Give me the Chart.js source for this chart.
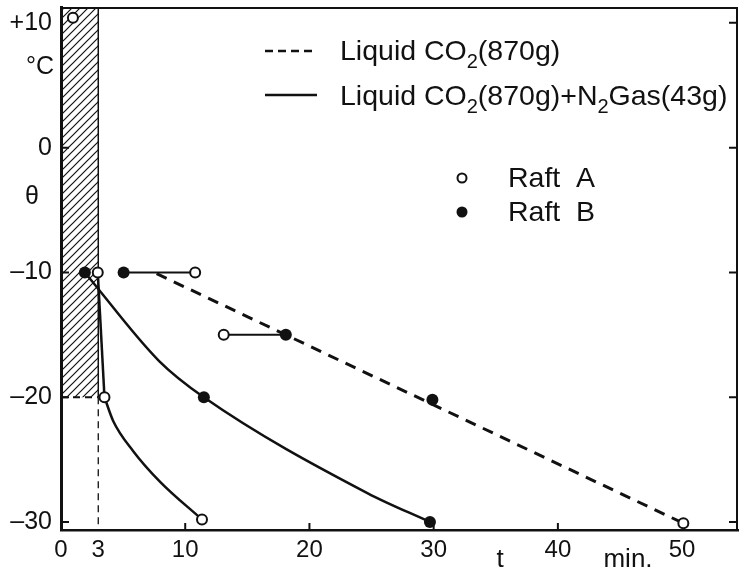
<!DOCTYPE html>
<html><head><meta charset="utf-8">
<script src="https://cdn.jsdelivr.net/npm/chart.js@4/dist/chart.umd.min.js"></script>
<style>html,body{margin:0;padding:0;background:#fff;}canvas{display:block;}</style>
</head><body>
<canvas id="c" width="745" height="573"></canvas>
<script>
// ---- axis ranges and ticks ----
const xMin = 0, xMax = 54.5;
const yMin = -30.64, yMax = 11.27;
const xTickValues = [0, 3, 10, 20, 30, 40, 50];
const yTickValues = [-30, -20, -10, 0, 10];
const xInnerTicks = [10, 20, 30, 40];
const yRightTicks = [-30, -20, -10, 0, 10];
const yLeftTicks = [-30, -20, -10, 0];

// ---- measured points (t in min, theta in degC) ----
const raftA_t     = [0.96, 2.96, 3.5, 11.35, 10.8, 13.1, 50.1];
const raftA_theta = [10.4, -10, -20, -29.8, -10, -15, -30.1];
const raftB_t     = [1.92, 5.04, 18.1, 11.5, 29.9, 29.7];
const raftB_theta = [-10, -10, -15, -20, -20.2, -30];

// ---- drawn lines ----
const co2_t     = [7.7, 50.1];          // Liquid CO2 (dashed)
const co2_theta = [-10.1, -30.1];
const n2A_drop_t     = [2.96, 3.5];     // CO2 + N2, raft A: steep part (solid)
const n2A_drop_theta = [-10, -20];
const n2A_t     = [3.5, 4.2, 5.8, 8.0, 11.35];   // CO2 + N2, raft A: curve (solid)
const n2A_theta = [-20, -21.9, -24.3, -26.8, -29.8];
const n2B_t     = [1.92, 7.9, 11.5, 24.7, 29.7]; // CO2 + N2, raft B (solid)
const n2B_theta = [-10, -17.1, -20, -27.7, -30];
const pair1_t = [5.04, 10.8], pair1_theta = [-10, -10];
const pair2_t = [13.1, 18.1], pair2_theta = [-15, -15];

// ---- shaded (hatched) region ----
const hatch_t = [0, 3];
const hatchBottom = -20;

const zip = (xs, ys) => xs.map((x, i) => ({x, y: ys[i]}));
const INK = '#111';

function makeHatch() {
  const s = 8, c = document.createElement('canvas');
  c.width = s; c.height = s;
  const g = c.getContext('2d');
  g.strokeStyle = INK; g.lineWidth = 1.2;
  g.beginPath();
  g.moveTo(0, s); g.lineTo(s, 0);
  g.moveTo(-s/2, s/2); g.lineTo(s/2, -s/2);
  g.moveTo(s/2, s*1.5); g.lineTo(s*1.5, s/2);
  g.stroke();
  return g.createPattern(c, 'repeat');
}

const FONT = '"Liberation Sans", Arial, sans-serif';

const extras = {
  id: 'extras',
  afterDraw(chart) {
    const {ctx, chartArea: a, scales: {x, y}} = chart;
    ctx.save();
    ctx.strokeStyle = INK; ctx.fillStyle = INK;
    // top and right frame
    ctx.lineWidth = 2;
    ctx.beginPath();
    ctx.moveTo(a.left, a.top + 1); ctx.lineTo(a.right - 1, a.top + 1); ctx.lineTo(a.right - 1, a.bottom);
    ctx.stroke();
    // inward ticks
    ctx.lineWidth = 2;
    ctx.beginPath();
    yRightTicks.forEach(v => { const py = y.getPixelForValue(v); ctx.moveTo(a.right - 1, py); ctx.lineTo(a.right - 9, py); });
    yLeftTicks.forEach(v => { const py = y.getPixelForValue(v); ctx.moveTo(a.left, py); ctx.lineTo(a.left + 8, py); });
    xInnerTicks.forEach(v => { const px = x.getPixelForValue(v); ctx.moveTo(px, a.bottom); ctx.lineTo(px, a.bottom - 7); });
    ctx.stroke();

    // axis titles
    ctx.textAlign = 'center'; ctx.textBaseline = 'middle';
    ctx.font = '25px ' + FONT;
    ctx.fillText('\u00B0C', 40, 67);
    ctx.fillText('\u03B8', 32, 197);
    ctx.textBaseline = 'alphabetic';
    ctx.font = '26px ' + FONT;
    ctx.fillText('t', 500, 567);
    ctx.fillText('min.', 628, 567);

    // legend: line styles
    ctx.lineWidth = 2.5;
    ctx.setLineDash([8, 5]);
    ctx.beginPath(); ctx.moveTo(265, 51); ctx.lineTo(313, 51); ctx.stroke();
    ctx.setLineDash([]);
    ctx.beginPath(); ctx.moveTo(265, 95); ctx.lineTo(317, 95); ctx.stroke();

    const big = '28.5px ' + FONT, sub = '20px ' + FONT;
    function rich(parts, x0, base) {
      let cx = x0;
      ctx.textAlign = 'left'; ctx.textBaseline = 'alphabetic';
      parts.forEach(p => {
        ctx.font = p.s ? sub : big;
        ctx.fillText(p.t, cx, base + (p.s ? 8 : 0));
        cx += ctx.measureText(p.t).width;
      });
    }
    rich([{t:'Liquid CO'},{t:'2',s:1},{t:'(870g)'}], 340, 60);
    rich([{t:'Liquid CO'},{t:'2',s:1},{t:'(870g)+N'},{t:'2',s:1},{t:'Gas(43g)'}], 340, 105);

    // legend: markers
    ctx.lineWidth = 2;
    ctx.beginPath(); ctx.arc(462, 178, 4.5, 0, Math.PI*2); ctx.fillStyle = '#fff'; ctx.fill(); ctx.stroke();
    ctx.fillStyle = INK;
    ctx.beginPath(); ctx.arc(462, 212, 5.5, 0, Math.PI*2); ctx.fill();
    ctx.font = big; ctx.textAlign = 'left'; ctx.textBaseline = 'middle';
    ctx.fillText('Raft  A', 508, 179);
    ctx.fillText('Raft  B', 508, 213);
    ctx.restore();
  }
};

const ctx = document.getElementById('c').getContext('2d');
const hatch = makeHatch();

const solid = (data, extra) => Object.assign({data, showLine: true, borderColor: INK, borderWidth: 2.5, pointRadius: 0}, extra || {});

new Chart(ctx, {
  type: 'scatter',
  data: {
    datasets: [
      { data: zip(raftA_t, raftA_theta), showLine: false, pointRadius: 5, pointBorderWidth: 2,
        pointBackgroundColor: '#fff', pointBorderColor: INK, order: 0 },
      { data: zip(raftB_t, raftB_theta), showLine: false, pointRadius: 6, pointBorderWidth: 0,
        pointBackgroundColor: INK, pointBorderColor: INK, order: 1 },
      solid(zip(co2_t, co2_theta), {borderWidth: 3, borderDash: [11, 8], order: 2}),
      solid(zip(n2A_drop_t, n2A_drop_theta), {order: 3}),
      solid(zip(n2A_t, n2A_theta), {cubicInterpolationMode: 'monotone', order: 3}),
      solid(zip(n2B_t, n2B_theta), {cubicInterpolationMode: 'monotone', order: 4}),
      solid(zip(pair1_t, pair1_theta), {borderWidth: 2, order: 5}),
      solid(zip(pair2_t, pair2_theta), {borderWidth: 2, order: 6}),
      // hatched region
      { data: hatch_t.map(t => ({x: t, y: yMax})), showLine: true, borderWidth: 0, borderColor: 'rgba(0,0,0,0)',
        pointRadius: 0, fill: {value: hatchBottom}, backgroundColor: hatch, order: 20 },
      // right edge of region (solid) and dashed continuations
      solid([{x: hatch_t[1], y: yMax}, {x: hatch_t[1], y: hatchBottom}], {borderWidth: 1.5, order: 9}),
      solid([{x: hatch_t[0], y: hatchBottom}, {x: hatch_t[1], y: hatchBottom}], {borderWidth: 2, borderDash: [7, 5], order: 10}),
      solid([{x: hatch_t[1], y: hatchBottom}, {x: hatch_t[1], y: yMin}], {borderWidth: 1.3, borderDash: [7, 5], order: 11})
    ]
  },
  options: {
    responsive: false, animation: false,
    layout: {padding: {top: 4, right: 2, left: 0, bottom: 0}},
    plugins: {legend: {display: false}, tooltip: {enabled: false}},
    scales: {
      x: {
        type: 'linear', min: xMin, max: xMax,
        afterFit: s => { s.height = 43; s.paddingLeft = 0; s.paddingRight = 0; },
        afterBuildTicks: s => { s.ticks = xTickValues.map(v => ({value: v})); },
        grid: {display: true, drawOnChartArea: false, drawTicks: false, color: 'rgba(0,0,0,0)'},
        border: {display: true, color: INK, width: 2.5},
        ticks: {color: INK, font: {family: FONT, size: 24}, padding: 6, maxRotation: 0, autoSkip: false,
                callback: v => String(v)}
      },
      y: {
        type: 'linear', min: yMin, max: yMax,
        afterFit: s => { s.width = 61; s.paddingTop = 0; s.paddingBottom = 0; },
        afterBuildTicks: s => { s.ticks = yTickValues.map(v => ({value: v})); },
        grid: {display: true, drawOnChartArea: false, drawTicks: false, color: 'rgba(0,0,0,0)'},
        border: {display: true, color: INK, width: 3},
        ticks: {color: INK, font: {family: FONT, size: 25}, padding: 9, autoSkip: false,
                callback: v => v > 0 ? '+' + v : (v < 0 ? '\u2013' + Math.abs(v) : '0')}
      }
    }
  },
  plugins: [extras]
});
</script>
</body></html>
